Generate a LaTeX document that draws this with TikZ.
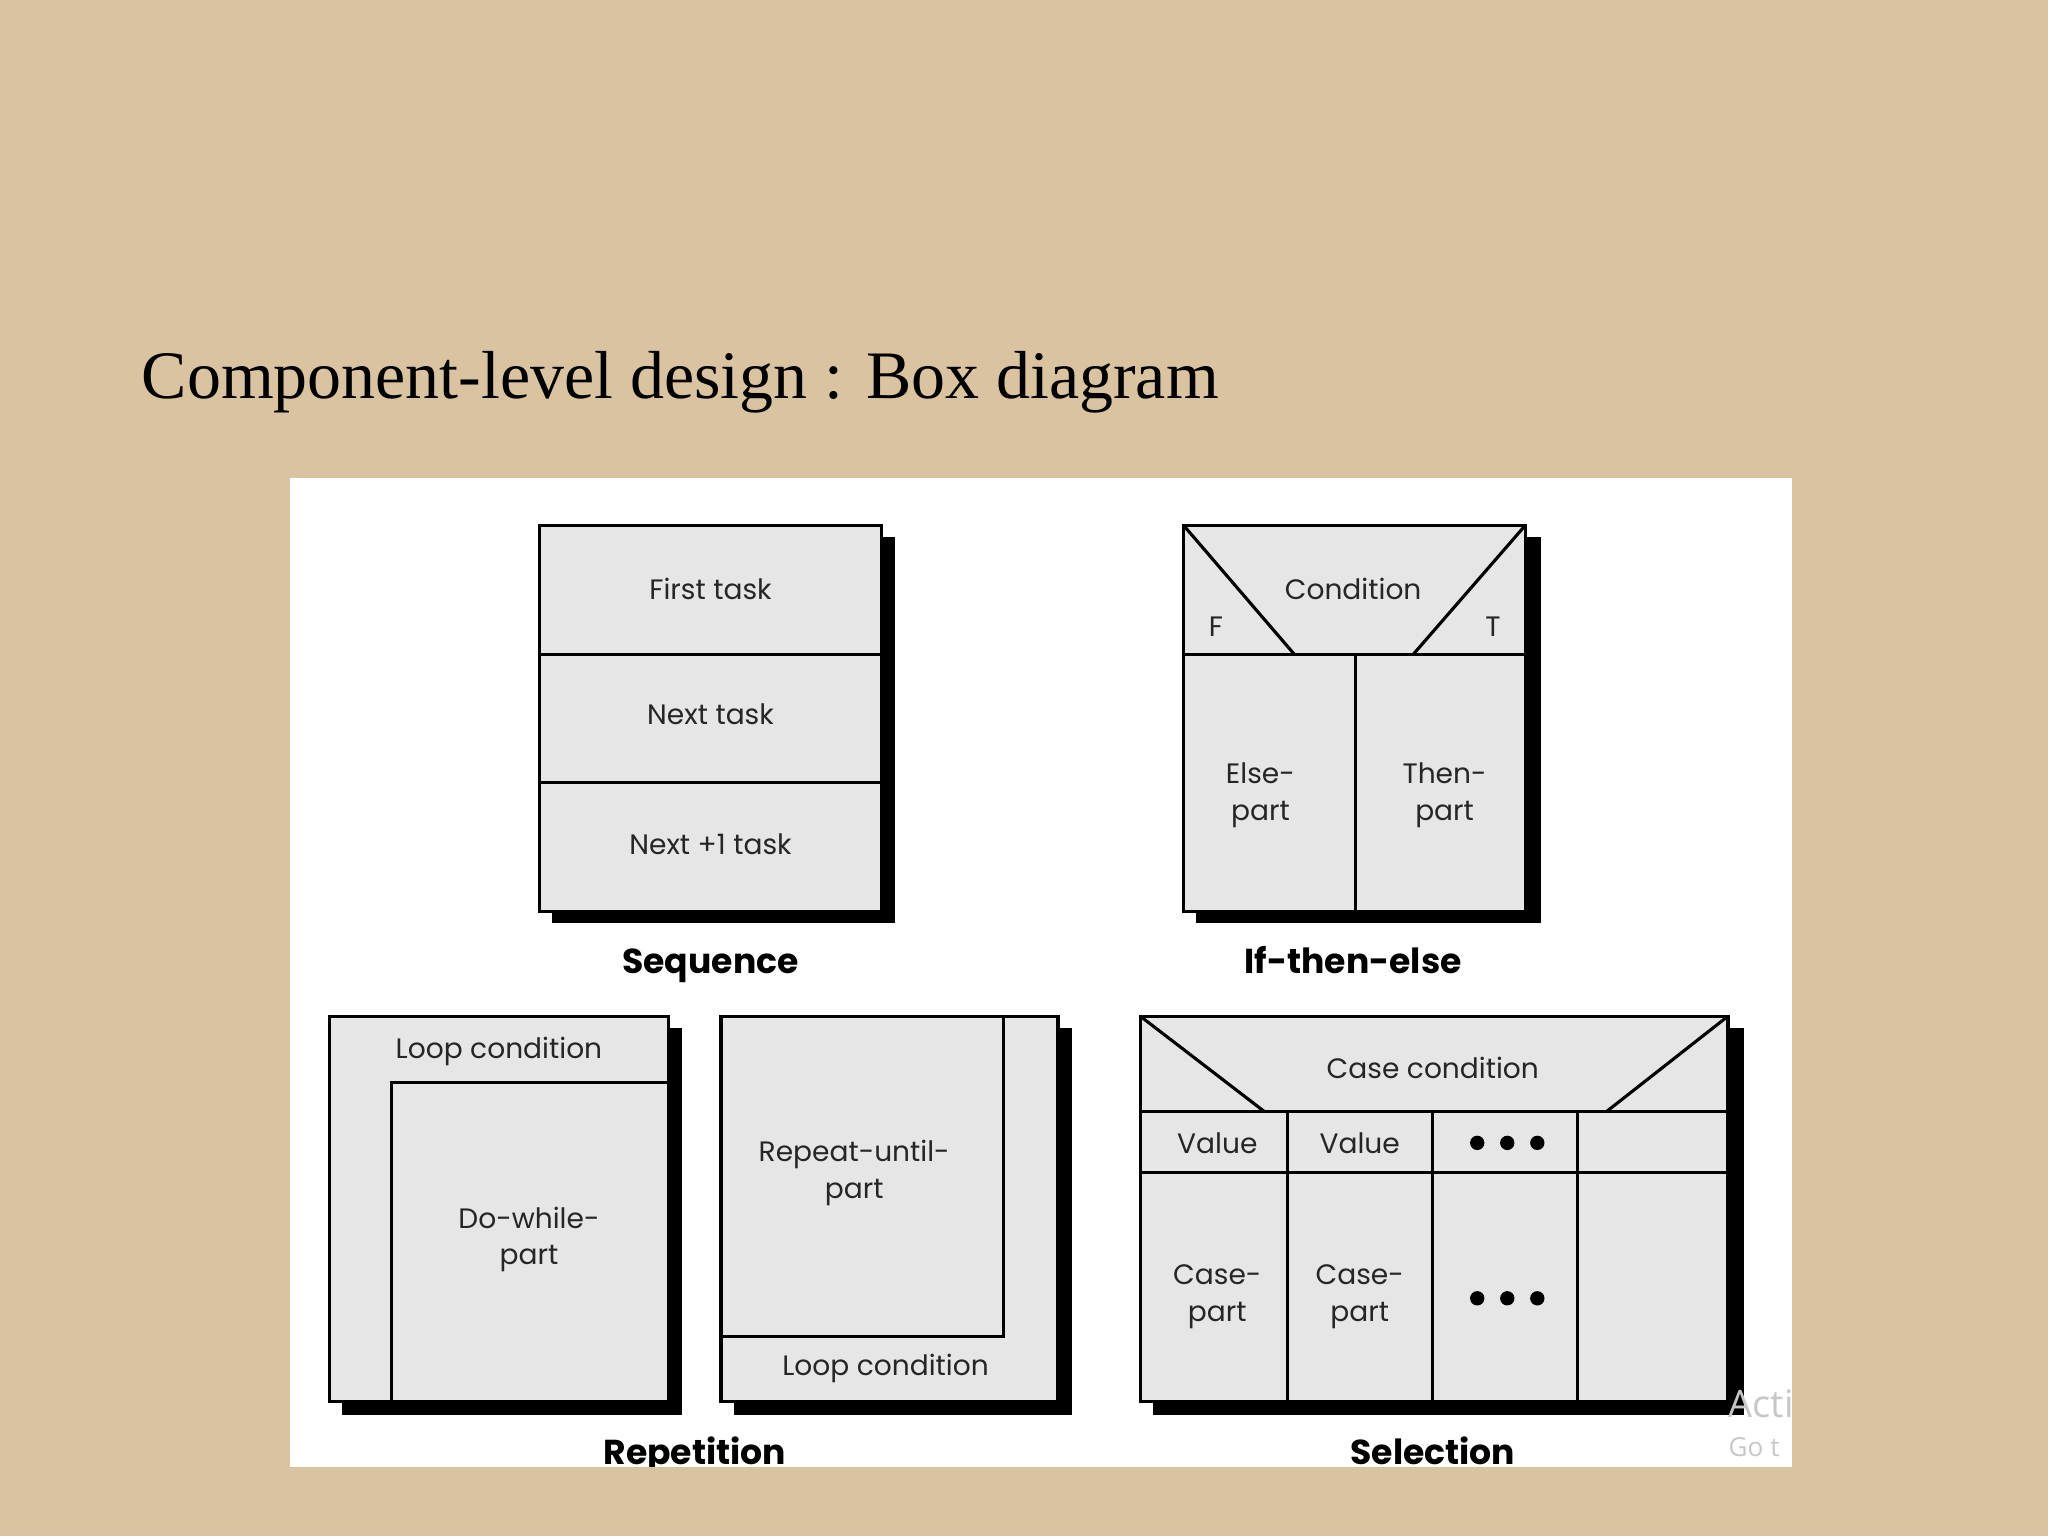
\documentclass[tikz,border=0pt]{standalone}
\usepackage{fontspec}
\setmainfont{Liberation Serif}
\newfontfamily\boxfont{Poppins}
\newfontfamily\winfont{Open Sans}
\usetikzlibrary{positioning}

\definecolor{slide}{HTML}{D9C3A0}
\definecolor{boxgray}{HTML}{E6E6E6}

\begin{document}
\begin{tikzpicture}[x=1pt,y=-1pt,
  cell/.style={draw=black,line width=2.4pt,fill=boxgray},
  rule/.style={draw=black,line width=2.4pt},
  drop/.style={fill=black},
  part/.style={font=\boxfont\fontsize{21.5}{28}\selectfont,align=center,text=black!85},
  caption/.style={anchor=base,font=\boxfont\bfseries\fontsize{26.5}{30}\selectfont,text=black}]

\useasboundingbox (0,0) rectangle (1568,1176);
\fill[slide] (0,0) rectangle (1568,1176);
\fill[white] (222,366) rectangle (1372,1123);
\node[anchor=base west,font=\fontsize{52}{56}\selectfont] (title) at (105,305) {Component-level design : Box diagram};

% Sequence
\fill[drop] (423,411) rectangle (685,707);
\draw[cell] (413,402) rectangle (675,698);
\draw[rule] (413,501) -- (675,501);
\draw[rule] (413,599) -- (675,599);
\node[part] (first) at (544,451) {First task};
\node[part] (next) at (544,547) {Next task};
\node[part] (nextone) at (544,646) {Next +1 task};
\node[caption] (seq) at (544,745) {Sequence};

% If-then-else
\fill[drop] (916,411) rectangle (1180,707);
\draw[cell] (906,402) rectangle (1168,698);
\draw[rule] (906,501) -- (1168,501);
\draw[rule] (1038,501) -- (1038,698);
\draw[rule] (906,402) -- (991,501);
\draw[rule] (1168,402) -- (1082,501);
\node[part] (cond) at (1036,451) {Condition};
\node[part] (false) at (931,480) {F};
\node[part] (true) at (1143,480) {T};
\node[part] (else) at (965,609) {Else-\\part};
\node[part] (then) at (1106,609) {Then-\\part};
\node[caption] (ite) at (1036,745) {If-then-else};

% Repetition
\fill[drop] (262,787) rectangle (522,1083);
\draw[cell] (252,778) rectangle (512,1073);
\draw[rule] (300,1073) -- (300,829) -- (512,829);
\node[part] (whilecond) at (382,805) {Loop condition};
\node[part] (dowhile) at (405,949) {Do-while-\\part};

\fill[drop] (562,787) rectangle (821,1083);
\draw[cell] (552,778) rectangle (810,1073);
\draw[rule] (552,1023) -- (768,1023) -- (768,778);
\node[part] (repeat) at (654,898) {Repeat-until-\\part};
\node[part] (untilcond) at (678,1048) {Loop condition};
\node[caption] (rep) at (532,1121) {Repetition};

% Selection
\fill[drop] (883,787) rectangle (1335,1083);
\draw[cell] (873,778) rectangle (1323,1073);
\draw[rule] (873,851) -- (1323,851);
\draw[rule] (873,898) -- (1323,898);
\foreach \x in {986,1097,1208}{
    \draw[rule] (\x,851) -- (\x,1073);
}
\draw[rule] (873,778) -- (968,851);
\draw[rule] (1323,778) -- (1230,851);
\node[part] (casecond) at (1097,818) {Case condition};
\node[part] (valone) at (932,875) {Value};
\node[part] (valtwo) at (1041,875) {Value};
\node[part] (caseone) at (932,993) {Case-\\part};
\node[part] (casetwo) at (1041,993) {Case-\\part};
\foreach \x in {1131,1154,1177}{
    \fill (\x,875) circle (5.5pt);
    \fill (\x,994) circle (5.5pt);
}
\node[caption] (sel) at (1097,1121) {Selection};

% watermark
\node[anchor=base west,font=\winfont\fontsize{29}{30}\selectfont,text=black!22] (act) at (1320,1085) {Acti};
\node[anchor=base west,font=\winfont\fontsize{20}{22}\selectfont,text=black!22] (goto) at (1320,1115) {Go t};

\fill[slide] (0,1123) rectangle (1568,1176);
\end{tikzpicture}
\end{document}
